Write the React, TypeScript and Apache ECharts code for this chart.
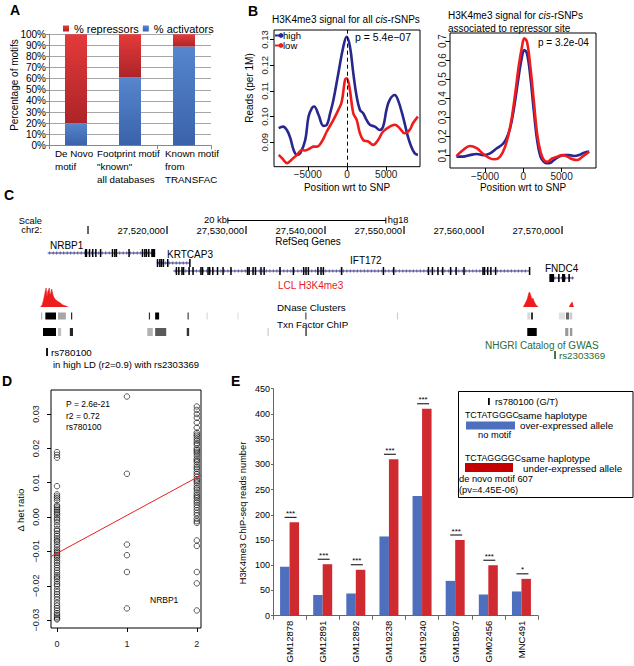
import React, { useEffect, useRef } from "react";
import * as echarts from "echarts";

const FONT = "Liberation Sans, Arial, Helvetica, sans-serif";

/* ---------------- Panel A ---------------- */
const A_CATEGORIES = ["De Novo\nmotif", "Footprint motif\n\"known\"\nall databases", "Known motif\nfrom\nTRANSFAC"];
const A_ACTIVATORS = [20, 61, 89];
const A_REPRESSORS = [80, 39, 11];

/* ---------------- Panel B ---------------- */
const B_X_TICKS = [-5000, 0, 5000];
const B1_Y_TICKS = [0.09, 0.1, 0.11, 0.12, 0.13];
const B2_Y_TICKS = [0.1, 0.2, 0.3, 0.4, 0.5, 0.6, 0.7];
const B1_HIGH = [
  [-8700, 0.0955], [-8140, 0.0961], [-7630, 0.0946], [-7220, 0.0916], [-6800, 0.087], [-6370, 0.0851],
  [-5950, 0.0858], [-5320, 0.0909], [-4900, 0.1], [-4470, 0.1033], [-4180, 0.1039], [-3630, 0.1007],
  [-3000, 0.0964], [-2570, 0.0968], [-2150, 0.1013], [-1730, 0.1065], [-1100, 0.1169], [-470, 0.1272],
  [-40, 0.1311], [380, 0.1272], [800, 0.1169], [1230, 0.1078], [1650, 0.1026], [2060, 0.1013],
  [2490, 0.0987], [2910, 0.0968], [3550, 0.0961], [4180, 0.0948], [4600, 0.0961], [5030, 0.1026],
  [5440, 0.1065], [6080, 0.1084], [6490, 0.1065], [7130, 0.1], [7760, 0.0922], [8190, 0.0883],
  [8610, 0.0858], [9030, 0.0851],
];
const B1_LOW = [
  [-8700, 0.0851], [-8270, 0.0838], [-7630, 0.0819], [-7000, 0.0834], [-6370, 0.0851], [-5730, 0.087],
  [-5320, 0.0868], [-4690, 0.0877], [-4270, 0.0883], [-3840, 0.0883], [-3200, 0.0903], [-2570, 0.0942],
  [-1730, 0.0987], [-1100, 0.1026], [-670, 0.1058], [-250, 0.1143], [-40, 0.1149], [300, 0.1117],
  [800, 0.1013], [1230, 0.0987], [1650, 0.0935], [2060, 0.0909], [2700, 0.0903], [3330, 0.089],
  [3960, 0.0909], [4600, 0.0942], [5440, 0.0961], [6080, 0.0968], [6710, 0.0955], [7340, 0.0935],
  [7980, 0.0948], [8400, 0.0974], [9030, 0.1],
];
const B2_HIGH = [
  [-8730, 0.094], [-7850, 0.094], [-6970, 0.102], [-6090, 0.108], [-5220, 0.102], [-4340, 0.111],
  [-3460, 0.138], [-2590, 0.164], [-1930, 0.216], [-1490, 0.286], [-1050, 0.391], [-610, 0.513],
  [-170, 0.618], [130, 0.653], [480, 0.635], [920, 0.513], [1360, 0.338], [1800, 0.181],
  [2240, 0.094], [2680, 0.067], [3110, 0.059], [3550, 0.062], [3990, 0.076], [4650, 0.094],
  [5310, 0.102], [5970, 0.102], [6620, 0.097], [7280, 0.102], [7940, 0.115], [8600, 0.12],
];
const B2_LOW = [
  [-8730, 0.097], [-7850, 0.129], [-6970, 0.15], [-6090, 0.138], [-5220, 0.108], [-4340, 0.085],
  [-3690, 0.08], [-3030, 0.094], [-2370, 0.146], [-1710, 0.251], [-1050, 0.426], [-610, 0.565],
  [-170, 0.67], [130, 0.714], [480, 0.696], [920, 0.565], [1360, 0.391], [1800, 0.216],
  [2240, 0.12], [2680, 0.076], [3110, 0.067], [3770, 0.085], [4430, 0.094], [5090, 0.102],
  [5750, 0.094], [6410, 0.08], [7070, 0.076], [7720, 0.094], [8600, 0.12],
];

/* ---------------- Panel C (positions in kb on chr2, hg18) ---------------- */
const C_SCALE_TICKS_KB = [27510, 27520, 27530, 27540, 27550, 27560, 27570];
const C_SCALE_BAR_START_KB = 27527.7;
const C_SCALE_BAR_LENGTH_KB = 20;
const C_GENES = [
  {
    name: "NRBP1", start: 27504.9, end: 27518.5,
    exons: [[27509.6, 27509.9], [27510.1, 27510.2], [27510.5, 27510.6], [27510.9, 27511.0], [27511.5, 27511.6],
      [27513.0, 27513.1], [27513.3, 27513.4], [27513.5, 27513.6], [27515.1, 27515.2], [27516.8, 27516.9],
      [27517.1, 27517.2], [27517.3, 27517.4], [27517.6, 27517.7], [27518.0, 27518.5]],
  },
  {
    name: "KRTCAP3", start: 27518.7, end: 27522.9,
    exons: [[27518.7, 27518.85], [27519.0, 27519.1], [27519.2, 27519.3], [27519.45, 27519.6], [27520.0, 27520.15], [27522.8, 27522.9]],
  },
  {
    name: "IFT172", start: 27520.8, end: 27565.9,
    exons: [[27521.1, 27521.2], [27521.4, 27521.5], [27521.8, 27521.9], [27522.0, 27522.1], [27522.7, 27522.8],
      [27523.2, 27523.3], [27524.2, 27524.3], [27524.4, 27524.5], [27525.1, 27525.2], [27525.3, 27525.4],
      [27525.7, 27525.8], [27526.3, 27526.4], [27527.0, 27527.1], [27528.0, 27528.1], [27530.1, 27530.2],
      [27530.3, 27530.4], [27530.8, 27530.9], [27531.1, 27531.2], [27531.8, 27531.9], [27532.2, 27532.3],
      [27534.2, 27534.4], [27535.9, 27536.0], [27537.2, 27537.3], [27537.5, 27537.6], [27537.8, 27537.9],
      [27539.0, 27539.1], [27539.4, 27539.5], [27539.7, 27539.8], [27542.0, 27542.2], [27547.3, 27547.4],
      [27548.6, 27548.7], [27553.0, 27553.1], [27553.5, 27553.6], [27554.2, 27554.3], [27554.8, 27554.9],
      [27555.8, 27555.9], [27556.5, 27556.6], [27557.5, 27557.6], [27559.9, 27560.0], [27560.1, 27560.2],
      [27560.5, 27560.6], [27560.9, 27561.0], [27561.5, 27561.6], [27565.8, 27565.9]],
  },
  {
    name: "FNDC4", start: 27568.4, end: 27571.5,
    exons: [[27568.4, 27569.0], [27569.5, 27569.7], [27570.0, 27570.4], [27570.8, 27571.0]],
  },
];
const C_H3K4ME3: any[] = [
  [27504.0, 0], [27504.2, 2], [27504.4, 8], [27504.6, 16], [27504.7, 19], [27504.8, 10], [27504.9, 15],
  [27505.1, 19], [27505.2, 12], [27505.3, 14], [27505.4, 18], [27505.6, 11], [27505.8, 8], [27506.1, 6],
  [27506.5, 4], [27506.8, 2], [27507.2, 1], [27507.5, 0], [27536, null],
  [27565.1, 0], [27565.3, 3], [27565.6, 8], [27565.8, 14], [27565.9, 15], [27566.1, 10], [27566.2, 7],
  [27566.3, 9], [27566.5, 5], [27566.7, 2], [27567.0, 0], [27569, null],
  [27570.9, 0], [27571.1, 3], [27571.3, 5], [27571.4, 1], [27571.5, 0],
];
// [start kb, end kb, darkness 0..1]
const C_DNASE = [
  [27504.05, 27504.2, 0.3], [27504.6, 27505.95, 1], [27506.2, 27507.2, 0.35], [27507.85, 27508.0, 0.85],
  [27517.7, 27517.85, 0.8], [27518.5, 27519.0, 1], [27522.6, 27522.75, 0.75], [27525.0, 27525.12, 0.15],
  [27528.9, 27529.02, 0.12], [27537.5, 27537.62, 0.7], [27549.1, 27549.22, 0.2], [27565.6, 27566.0, 0.15],
  [27566.1, 27566.3, 1], [27569.6, 27570.4, 0.12], [27570.5, 27570.9, 0.6], [27571.0, 27571.3, 0.2],
];
const C_TXN = [
  [27504.3, 27505.95, 1], [27506.2, 27506.6, 0.25], [27507.7, 27508.1, 0.85], [27517.5, 27518.2, 0.3],
  [27518.5, 27519.9, 0.65], [27522.5, 27522.8, 0.8], [27532.7, 27532.9, 0.15], [27537.5, 27537.7, 0.7],
  [27565.6, 27566.8, 1], [27570.4, 27570.8, 0.4], [27571.0, 27571.3, 0.4],
];
const C_SNPS = [
  { name: "rs780100", kb: 27504.8 },
  { name: "rs2303369", kb: 27569.1 },
];

/* ---------------- Panel D ---------------- */
const D_X_TICKS = [0, 1, 2];
const D_Y_TICKS = [-0.03, -0.02, -0.01, 0, 0.01, 0.02, 0.03];
const D_GENO0 = [
  0.0189, 0.0181, 0.0173, 0.009, 0.0066, 0.006, 0.0055, 0.0048, 0.0035, 0.003, 0.0025, 0.002, 0.0015,
  0.001, 0.0005, -0.0003, -0.0008, -0.0015, -0.0025, -0.0035, -0.004, -0.0048, -0.0055, -0.0062,
  -0.0068, -0.0072, -0.008, -0.0088, -0.0095, -0.01, -0.0105, -0.011, -0.0115, -0.012, -0.0127,
  -0.0133, -0.014, -0.0148, -0.0155, -0.0162, -0.017, -0.0175, -0.018, -0.0188, -0.0195, -0.02,
  -0.021, -0.0218, -0.0225, -0.0232, -0.024, -0.025, -0.0258, -0.0265, -0.0272, -0.028, -0.0285,
  -0.029, -0.0295, -0.0298,
];
const D_GENO1 = [0.0351, 0.0126, -0.008, -0.0111, -0.016, -0.0266];
const D_GENO2 = [
  0.0322, 0.0312, 0.03, 0.0289, 0.0275, 0.026, 0.0246, 0.024, 0.0235, 0.0228, 0.0222, 0.0215, 0.021,
  0.02, 0.0195, 0.019, 0.0185, 0.0178, 0.017, 0.0165, 0.016, 0.0152, 0.0145, 0.014, 0.0132, 0.0125,
  0.0118, 0.011, 0.0105, 0.01, 0.0092, 0.0085, 0.008, 0.0072, 0.0065, 0.006, 0.0055, 0.0048, 0.0042,
  0.0035, 0.0028, 0.002, 0.0012, 0.0005, -0.0005, -0.0012, -0.0017, -0.0068, -0.0084, -0.016, -0.0193,
  -0.0272,
];
const D_FIT_LINE = [[-0.086, -0.0115], [2.06, 0.0122]];

/* ---------------- Panel E ---------------- */
const E_SAMPLES = ["GM12878", "GM12891", "GM12892", "GM19238", "GM19240", "GM18507", "GM02456", "MNC491"];
const E_OVER = [97, 41, 44, 157, 237, 69, 42, 48];
const E_UNDER = [185, 102, 91, 310, 410, 150, 100, 73];
const E_SIG = ["***", "***", "***", "***", "***", "***", "***", "*"];

/* ---------------- layout / style ---------------- */
const C_KB_MIN = 27498.86;
const C_KB_MAX = 27579.11;
const C_ROWS = { scaleBar: 220.5, tickRow: 230, dnase: 316, txn: 332 };
const C_GENE_LAYOUT: any = {
  NRBP1: { y: 253, lx: 50, ly: 245 },
  KRTCAP3: { y: 263, lx: 167, ly: 254 },
  IFT172: { y: 271, lx: 350, ly: 260 },
  FNDC4: { y: 278, lx: 545, ly: 268 },
};
const C_SNP_LAYOUT: any = {
  rs780100: { y: 352, color: "#000" },
  rs2303369: { y: 355, color: "#2f6b35" },
};
const A_LABEL_X = [55, 97, 165];

function txt(text: string, x: number, y: number, o: any = {}) {
  const align = o.align || "left";
  const va = o.va || "middle";
  return {
    type: "text",
    x,
    y,
    rotation: o.rotation || 0,
    z: 100,
    silent: true,
    style: {
      text,
      fill: o.color || "#000",
      fontSize: o.size || 10,
      fontFamily: FONT,
      fontWeight: o.bold ? "bold" : "normal",
      fontStyle: o.italic ? "italic" : "normal",
      textAlign: align,
      align,
      textVerticalAlign: va,
      verticalAlign: va,
      lineHeight: o.lineHeight,
    },
  };
}

const signed = (d: number) => (v: number) => (v < 0 ? "\u2212" : "") + Math.abs(v).toFixed(d);
const gray = (s: number) => {
  const g = Math.round(255 * (1 - s));
  return `rgb(${g},${g},${g})`;
};

function buildOption() {
  const rGrid = (left: number, top: number, width: number, height: number) => ({
    left, top, width, height, show: true, borderColor: "#000", borderWidth: 1,
    backgroundColor: "transparent", containLabel: false, outerBoundsMode: "none",
  });
  const plainGrid = (left: number, top: number, width: number, height: number) => ({
    left, top, width, height, show: false, containLabel: false, outerBoundsMode: "none",
  });
  const rAxisX = (gridIndex: number, min: number, max: number, ticks: number[], fmt: any, margin: number, size: number) => ({
    type: "value", gridIndex, min, max, position: "bottom",
    axisLine: { show: false, onZero: false },
    splitLine: { show: false },
    axisTick: { show: true, customValues: ticks, length: 4, lineStyle: { color: "#000" } },
    axisLabel: { customValues: ticks, formatter: fmt, fontSize: size, fontFamily: FONT, color: "#222", margin },
  });
  const rAxisY = (gridIndex: number, min: number, max: number, ticks: number[], fmt: any, margin: number, size: number) => ({
    type: "value", gridIndex, min, max, position: "left",
    axisLine: { show: false, onZero: false },
    splitLine: { show: false },
    axisTick: { show: true, customValues: ticks, length: 4, lineStyle: { color: "#000" } },
    axisLabel: { customValues: ticks, formatter: fmt, rotate: 90, fontSize: size, fontFamily: FONT, color: "#222", margin },
  });
  const hiddenAxis = (gridIndex: number, min: number, max: number) => ({
    type: "value", gridIndex, min, max, show: false,
    axisLine: { show: false, onZero: false }, axisTick: { show: false }, axisLabel: { show: false }, splitLine: { show: false },
  });

  const grids = [
    plainGrid(49, 34.3, 162, 111), // A
    rGrid(274, 30, 146, 136.7), // B1
    rGrid(450, 33, 146, 135), // B2
    plainGrid(0, 200, 634, 180), // C tracks
    plainGrid(0, 287, 634, 20), // C signal
    rGrid(51, 390, 150, 238), // D
    plainGrid(273, 388.6, 265, 227.1), // E
  ];

  const xAxes: any[] = [
    {
      type: "category", gridIndex: 0, data: A_CATEGORIES,
      axisLine: { show: true, onZero: false, lineStyle: { color: "#888" } },
      axisTick: { show: true, length: 4, lineStyle: { color: "#888" } },
      axisLabel: { show: false },
    },
    rAxisX(1, -9300, 9300, B_X_TICKS, signed(0), 3, 10),
    rAxisX(2, -9566, 9487, B_X_TICKS, signed(0), 3, 10),
    hiddenAxis(3, C_KB_MIN, C_KB_MAX),
    hiddenAxis(4, C_KB_MIN, C_KB_MAX),
    rAxisX(5, -0.086, 2.06, D_X_TICKS, signed(0), 11, 9),
    {
      type: "category", gridIndex: 6, data: E_SAMPLES,
      axisLine: { show: true, onZero: false, lineStyle: { color: "#666" } },
      axisTick: { show: true, length: 4, lineStyle: { color: "#666" } },
      axisLabel: { rotate: 90, fontSize: 9.5, fontFamily: FONT, color: "#000", margin: 5, interval: 0 },
    },
  ];
  const yAxes: any[] = [
    {
      type: "value", gridIndex: 0, min: 0, max: 100, interval: 10,
      axisLine: { show: true, onZero: false, lineStyle: { color: "#888" } },
      axisTick: { show: true, length: 3, lineStyle: { color: "#888" } },
      axisLabel: { formatter: "{value}%", fontSize: 10, fontFamily: FONT, color: "#000", margin: 3 },
      splitLine: { show: true, lineStyle: { color: "#a6a6a6", width: 1 } },
    },
    rAxisY(1, 0.0805, 0.1337, B1_Y_TICKS, signed(2), 5, 9.5),
    rAxisY(2, 0.0344, 0.742, B2_Y_TICKS, signed(1), 3, 10),
    hiddenAxis(3, 0, 1),
    hiddenAxis(4, 0, 20),
    rAxisY(5, -0.0323, 0.037, D_Y_TICKS, signed(2), 11, 9),
    {
      type: "value", gridIndex: 6, min: 0, max: 450, interval: 50,
      axisLine: { show: true, onZero: false, lineStyle: { color: "#666" } },
      axisTick: { show: true, length: 2, lineStyle: { color: "#666" } },
      axisLabel: { fontSize: 9, fontFamily: FONT, color: "#000", margin: 3 },
      splitLine: { show: false },
    },
  ];

  const blueGrad = new echarts.graphic.LinearGradient(0, 0, 0, 1, [
    { offset: 0, color: "#5686cd" },
    { offset: 1, color: "#3a62ab" },
  ]);
  const redGrad = new echarts.graphic.LinearGradient(0, 0, 0, 1, [
    { offset: 0, color: "#e43a3a" },
    { offset: 1, color: "#ad2428" },
  ]);

  const BLUE_LINE = "#27278f";
  const RED_LINE = "#f01c1c";

  const series: any[] = [
    // Panel A
    { name: "% activators", type: "bar", stack: "a", xAxisIndex: 0, yAxisIndex: 0, data: A_ACTIVATORS, barWidth: 22, itemStyle: { color: blueGrad } },
    { name: "% repressors", type: "bar", stack: "a", xAxisIndex: 0, yAxisIndex: 0, data: A_REPRESSORS, barWidth: 22, itemStyle: { color: redGrad } },
    // Panel B1
    {
      name: "high", type: "line", xAxisIndex: 1, yAxisIndex: 1, data: B1_HIGH, smooth: 0.4, showSymbol: false, symbol: "circle",
      lineStyle: { color: BLUE_LINE, width: 2.6 }, itemStyle: { color: BLUE_LINE }, z: 3,
      markLine: {
        silent: true, symbol: ["none", "none"], label: { show: false },
        lineStyle: { color: "#000", type: [4, 3], width: 1 }, data: [{ xAxis: 0 }],
      },
    },
    { name: "low", type: "line", xAxisIndex: 1, yAxisIndex: 1, data: B1_LOW, smooth: 0.4, showSymbol: false, symbol: "circle", lineStyle: { color: RED_LINE, width: 2.6 }, itemStyle: { color: RED_LINE }, z: 4 },
    // Panel B2
    { name: "high", type: "line", xAxisIndex: 2, yAxisIndex: 2, data: B2_HIGH, smooth: 0.4, showSymbol: false, lineStyle: { color: BLUE_LINE, width: 2.6 }, itemStyle: { color: BLUE_LINE }, z: 3 },
    { name: "low", type: "line", xAxisIndex: 2, yAxisIndex: 2, data: B2_LOW, smooth: 0.4, showSymbol: false, lineStyle: { color: RED_LINE, width: 2.6 }, itemStyle: { color: RED_LINE }, z: 4 },
    // Panel C: scale ticks
    {
      type: "custom", xAxisIndex: 3, yAxisIndex: 3, silent: true, clip: false,
      data: C_SCALE_TICKS_KB.map((kb, i) => [kb, 0, i]),
      renderItem: (_p: any, api: any) => {
        const kb = api.value(0);
        const x = api.coord([kb, 0])[0];
        const y = C_ROWS.tickRow;
        const children: any[] = [{ type: "rect", shape: { x: x - 0.6, y: y - 4, width: 1.2, height: 8 }, style: { fill: "#000" } }];
        if (api.value(2) > 0) {
          children.push({
            type: "text", x: x - 2, y,
            style: { text: Math.round(kb * 1000).toLocaleString("en-US"), fill: "#000", fontSize: 9.5, fontFamily: FONT, textAlign: "right", align: "right", textVerticalAlign: "middle", verticalAlign: "middle" },
          });
        }
        return { type: "group", children };
      },
    },
    // Panel C: scale bar
    {
      type: "custom", xAxisIndex: 3, yAxisIndex: 3, silent: true, clip: false,
      data: [[C_SCALE_BAR_START_KB, 0, C_SCALE_BAR_LENGTH_KB]],
      renderItem: (_p: any, api: any) => {
        const x1 = api.coord([api.value(0), 0])[0];
        const x2 = api.coord([api.value(0) + api.value(2), 0])[0];
        const y = C_ROWS.scaleBar;
        const ts = { fill: "#000", fontSize: 9.3, fontFamily: FONT, textVerticalAlign: "middle", verticalAlign: "middle" };
        return {
          type: "group",
          children: [
            { type: "line", shape: { x1, y1: y, x2, y2: y }, style: { stroke: "#000", lineWidth: 1 } },
            { type: "line", shape: { x1, y1: y - 3, x2: x1, y2: y + 3 }, style: { stroke: "#000", lineWidth: 1 } },
            { type: "line", shape: { x1: x2, y1: y - 3, x2, y2: y + 3 }, style: { stroke: "#000", lineWidth: 1 } },
            { type: "text", x: x1 - 1, y: y - 1, style: { ...ts, text: `${api.value(2)} kb`, textAlign: "right", align: "right" } },
            { type: "text", x: x2 + 2, y: y - 0.5, style: { ...ts, text: "hg18", textAlign: "left", align: "left" } },
          ],
        };
      },
    },
    // Panel C: genes
    {
      type: "custom", xAxisIndex: 3, yAxisIndex: 3, silent: true, clip: false,
      data: C_GENES.map((g, i) => [g.start, 0, i]),
      renderItem: (_p: any, api: any) => {
        const g = C_GENES[api.value(2)];
        const L = C_GENE_LAYOUT[g.name];
        const xs = api.coord([g.start, 0])[0];
        const xe = api.coord([g.end, 0])[0];
        const y = L.y;
        const NAVY = "#34348a";
        const children: any[] = [{ type: "line", shape: { x1: xs, y1: y, x2: xe, y2: y }, style: { stroke: NAVY, lineWidth: 1 } }];
        for (let x = xs + 2; x < xe - 1; x += 3.5) {
          children.push({ type: "line", shape: { x1: x, y1: y - 1.6, x2: x, y2: y + 1.6 }, style: { stroke: NAVY, lineWidth: 0.7 } });
        }
        for (const [s, e] of g.exons) {
          const a = api.coord([s, 0])[0];
          const b = api.coord([e, 0])[0];
          children.push({ type: "rect", shape: { x: a, y: y - 4, width: Math.max(b - a, 1.5), height: 8 }, style: { fill: "#000" } });
        }
        children.push({
          type: "text", x: L.lx, y: L.ly,
          style: { text: g.name, fill: "#000", fontSize: 10, fontFamily: FONT, textAlign: "left", align: "left", textVerticalAlign: "middle", verticalAlign: "middle" },
        });
        return { type: "group", children };
      },
    },
    // Panel C: DNase + TF tracks
    {
      type: "custom", xAxisIndex: 3, yAxisIndex: 3, silent: true, clip: false,
      data: [...C_DNASE.map((d) => [d[0], 0, d[1], d[2], 0]), ...C_TXN.map((d) => [d[0], 0, d[1], d[2], 1])],
      renderItem: (_p: any, api: any) => {
        const a = api.coord([api.value(0), 0])[0];
        const b = api.coord([api.value(2), 0])[0];
        const row = api.value(4) === 0 ? C_ROWS.dnase : C_ROWS.txn;
        const h = api.value(4) === 0 ? 7 : 8;
        return { type: "rect", shape: { x: a, y: row - h / 2, width: Math.max(b - a, 1.2), height: h }, style: { fill: gray(api.value(3)) } };
      },
    },
    // Panel C: SNP markers
    {
      type: "custom", xAxisIndex: 3, yAxisIndex: 3, silent: true, clip: false,
      data: C_SNPS.map((s, i) => [s.kb, 0, i]),
      renderItem: (_p: any, api: any) => {
        const s = C_SNPS[api.value(2)];
        const L = C_SNP_LAYOUT[s.name];
        const x = api.coord([s.kb, 0])[0];
        return {
          type: "group",
          children: [
            { type: "rect", shape: { x: x - 0.8, y: L.y - 4, width: 1.8, height: 8 }, style: { fill: L.color } },
            {
              type: "text", x: x + 4, y: L.y,
              style: { text: s.name, fill: L.color, fontSize: 9.8, fontFamily: FONT, textAlign: "left", align: "left", textVerticalAlign: "middle", verticalAlign: "middle" },
            },
          ],
        };
      },
    },
    // Panel C: H3K4me3 signal
    {
      type: "line", xAxisIndex: 4, yAxisIndex: 4, data: C_H3K4ME3, showSymbol: false, connectNulls: false,
      lineStyle: { color: "#ee1c1c", width: 0.6 }, areaStyle: { color: "#ee1c1c", opacity: 1 }, silent: true,
    },
    // Panel D
    {
      type: "scatter", xAxisIndex: 5, yAxisIndex: 5, symbol: "circle", symbolSize: 5.5,
      data: [...D_GENO0.map((v) => [0, v]), ...D_GENO1.map((v) => [1, v]), ...D_GENO2.map((v) => [2, v])],
      itemStyle: { color: "rgba(255,255,255,0)", borderColor: "#000", borderWidth: 0.8 },
    },
    { type: "line", xAxisIndex: 5, yAxisIndex: 5, data: D_FIT_LINE, showSymbol: false, lineStyle: { color: "#e8201e", width: 1 }, z: 5 },
    // Panel E
    { name: "over", type: "bar", xAxisIndex: 6, yAxisIndex: 6, data: E_OVER, barWidth: 9.5, barGap: "0%", itemStyle: { color: "#4e6fbd" } },
    { name: "under", type: "bar", xAxisIndex: 6, yAxisIndex: 6, data: E_UNDER, barWidth: 9.5, barGap: "0%", itemStyle: { color: "#cf2a30" } },
    {
      type: "custom", xAxisIndex: 6, yAxisIndex: 6, silent: true, clip: false,
      data: E_SAMPLES.map((_s, i) => [i, E_UNDER[i], i]),
      renderItem: (_p: any, api: any) => {
        const c = api.coord([api.value(0), api.value(1)]);
        const i = api.value(2);
        return {
          type: "group",
          children: [
            { type: "line", shape: { x1: c[0] - 5, y1: c[1] - 5, x2: c[0] + 7, y2: c[1] - 5 }, style: { stroke: "#000", lineWidth: 1 } },
            {
              type: "text", x: c[0] + 1, y: c[1] - 9,
              style: { text: E_SIG[i], fill: "#000", fontSize: 8, fontFamily: FONT, textAlign: "center", align: "center", textVerticalAlign: "middle", verticalAlign: "middle" },
            },
          ],
        };
      },
    },
  ];

  const legendLine = (x: number, y: number, color: string, label: string) => [
    { type: "line", z: 100, shape: { x1: 275, y1: y, x2: x, y2: y }, style: { stroke: color, lineWidth: 2 } },
    { type: "circle", z: 100, shape: { cx: x, cy: y, r: 2.4 }, style: { fill: color } },
    txt(label, x + 2, y, { size: 9.5 }),
  ];

  const richTitle = (x: number, y: number, pre: string) => ({
    type: "text", x, y, z: 100, silent: true,
    style: {
      text: `{n|${pre}}{i|cis}{n|-rSNPs}`,
      textVerticalAlign: "middle", verticalAlign: "middle",
      rich: {
        n: { fontSize: 10, fontFamily: FONT, fill: "#000", color: "#000" },
        i: { fontSize: 10, fontFamily: FONT, fontStyle: "italic", fill: "#000", color: "#000" },
      },
    },
  });

  const graphic: any[] = [
    // panel letters
    txt("A", 10, 10, { size: 14, bold: true }),
    txt("B", 248, 11, { size: 14, bold: true }),
    txt("C", 4, 195, { size: 14, bold: true }),
    txt("D", 2, 381, { size: 14, bold: true }),
    txt("E", 231, 381, { size: 14, bold: true }),
    // A
    txt("Percentage of motifs", 14, 85, { size: 10, align: "center", rotation: Math.PI / 2 }),
    ...A_CATEGORIES.map((c, i) => txt(c, A_LABEL_X[i], 146.5, { size: 9.8, va: "top", lineHeight: 13 })),
    // B
    richTitle(272, 19, "H3K4me3 signal for all "),
    richTitle(448, 15, "H3K4me3 signal for "),
    txt("associated to repressor site", 448, 28, { size: 10 }),
    txt("Reads (per 1M)", 249, 88, { size: 10, align: "center", rotation: Math.PI / 2 }),
    txt("Position wrt to SNP", 347, 187, { size: 10, align: "center" }),
    txt("Position wrt to SNP", 523, 187, { size: 10, align: "center" }),
    txt("p = 5.4e\u221207", 355, 37, { size: 10.5 }),
    txt("p = 3.2e-04", 538, 42, { size: 10 }),
    ...legendLine(281, 35.5, BLUE_LINE, "high"),
    ...legendLine(281, 45.5, RED_LINE, "low"),
    // C
    txt("Scale", 42, 220.5, { size: 9.3, align: "right" }),
    txt("chr2:", 42, 230, { size: 9.3, align: "right" }),
    txt("RefSeq Genes", 308, 241.5, { size: 10, align: "center" }),
    txt("LCL H3K4me3", 278, 285, { size: 10, color: "#e8191f" }),
    txt("DNase Clusters", 277, 307, { size: 9.8 }),
    txt("Txn Factor ChIP", 277, 324, { size: 9.8 }),
    txt("NHGRI Catalog of GWAS", 485, 345, { size: 10, color: "#2f6b35" }),
    txt("in high LD (r2=0.9) with rs2303369", 53, 364, { size: 9.5 }),
    // D
    txt("\u0394 het ratio", 20, 510, { size: 9.5, align: "center", rotation: Math.PI / 2 }),
    txt("P = 2.6e-21", 66, 404, { size: 8.5 }),
    txt("r2 = 0.72", 66, 415.5, { size: 8.5 }),
    txt("rs780100", 66, 427, { size: 8.5 }),
    txt("NRBP1", 150, 600, { size: 8.5 }),
    // E
    txt("H3K4me3 ChIP-seq reads number", 242.5, 513, { size: 9.3, align: "center", rotation: Math.PI / 2 }),
    { type: "rect", z: 90, shape: { x: 458.5, y: 391.5, width: 174.5, height: 106 }, style: { fill: "#fff", stroke: "#000", lineWidth: 1 } },
    { type: "rect", z: 100, shape: { x: 488, y: 398, width: 1.8, height: 7 }, style: { fill: "#000" } },
    txt("rs780100 (G/T)", 495, 402, { size: 9.3 }),
    txt("TCTATGGGC", 465, 415, { size: 8.8 }),
    txt("same haplotype", 518, 415, { size: 9.8 }),
    txt("over-expressed allele", 520, 425.5, { size: 9.8 }),
    { type: "rect", z: 100, shape: { x: 466, y: 421.5, width: 49, height: 8 }, style: { fill: "#4e6fbd" } },
    txt("no motif", 478, 435, { size: 9.3 }),
    txt("TCTAGGGGC", 465, 458, { size: 8.8 }),
    txt("same haplotype", 521, 458.5, { size: 9.8 }),
    txt("under-expressed allele", 523, 468, { size: 9.8 }),
    { type: "rect", z: 100, shape: { x: 465, y: 463, width: 48, height: 9 }, style: { fill: "#c40000" } },
    txt("de novo motif 607", 459, 479, { size: 9.3 }),
    txt("(pv=4.45E-06)", 459, 490, { size: 9.3 }),
  ];

  return {
    animation: false,
    backgroundColor: "#fff",
    textStyle: { fontFamily: FONT },
    grid: grids,
    xAxis: xAxes,
    yAxis: yAxes,
    legend: [
      {
        data: ["% repressors", "% activators"], left: 58, top: 18, icon: "rect", itemWidth: 6, itemHeight: 6, itemGap: 4,
        textStyle: { fontSize: 11, fontFamily: FONT, color: "#000" }, selectedMode: false, orient: "horizontal",
      },
    ],
    series,
    graphic: { elements: graphic },
  };
}

export default function App() {
  const ref = useRef<HTMLDivElement>(null);
  useEffect(() => {
    if (!ref.current) return;
    const chart = echarts.init(ref.current, undefined, { renderer: "svg" });
    chart.setOption(buildOption() as any);
    return () => chart.dispose();
  }, []);
  return <div ref={ref} style={{ position: "fixed", left: 0, top: 0, width: 634, height: 666 }} />;
}
